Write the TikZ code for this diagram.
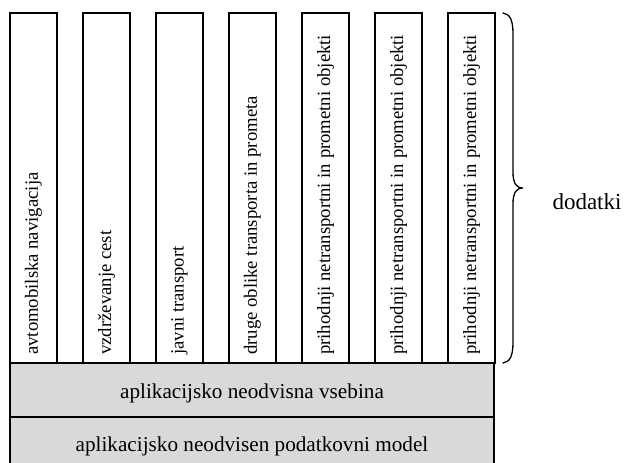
\documentclass[tikz,border=0pt]{standalone}
\usepackage{fontspec}
\setmainfont{Liberation Serif}
\begin{document}
\begin{tikzpicture}[x=1pt,y=-1pt,
  col/.style={draw=black, line width=1.4pt, minimum width=47pt, minimum height=350pt, inner sep=0pt},
  layer/.style={draw=black, fill=black!15, line width=1.4pt, minimum width=484pt, inner sep=0pt},
  vtext/.style={rotate=90, anchor=west, inner sep=0pt, font=\fontsize{18.7}{20}\selectfont},
  htext/.style={anchor=base, inner sep=0pt, font=\fontsize{21.2}{24}\selectfont}]
\useasboundingbox (0,0) rectangle (624,463);
\fill[white] (0,0) rectangle (624,463);
% layers
\node[layer, minimum height=54pt] (l1) at (252,390) {};
\node[layer, minimum height=53pt] (l2) at (252,443.5) {};
\node[htext] (t1) at (252,398) {aplikacijsko neodvisna vsebina};
\node[htext] (t2) at (252,451) {aplikacijsko neodvisen podatkovni model};
% columns
\foreach \i/\cx/\txt in {1/33.5/avtomobilska navigacija,
  2/106.5/vzdrževanje cest,
  3/179.5/javni transport,
  4/252.5/druge oblike transporta in prometa,
  5/325.5/prihodnji netransportni in prometni objekti,
  6/398.5/prihodnji netransportni in prometni objekti,
  7/471.5/prihodnji netransportni in prometni objekti}{
  \node[col] (c\i) at (\cx,188) {};
  \node[vtext] (v\i) at (\cx,355) {\txt};
}
% brace
\coordinate (bt) at (503,13);
\coordinate (bb) at (503,363);
\coordinate (tip) at (523,188);
\draw[line width=1.3pt, line cap=round]
  (bt) .. controls (510,14) and (513,20) .. (513,34)
  -- (513,172) .. controls (513,183) and (516,188) .. (tip)
  .. controls (516,188) and (513,193) .. (513,204)
  -- (513,342) .. controls (513,356) and (510,362) .. (bb);
\node[anchor=base, inner sep=0pt, font=\fontsize{23}{26}\selectfont] (dod) at (587,209) {dodatki};
\end{tikzpicture}
\end{document}
